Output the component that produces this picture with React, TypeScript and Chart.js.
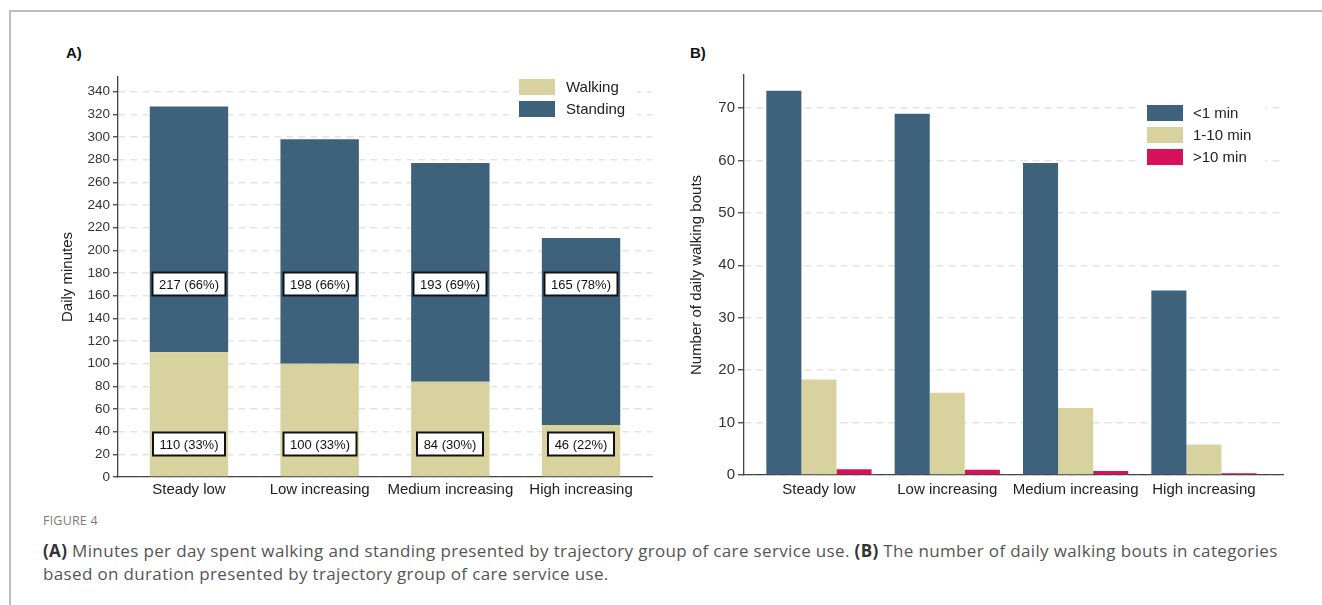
import React, { useEffect, useRef } from "react";
import { Chart, registerables } from "chart.js";

Chart.register(...registerables);

// ---------- Data ----------
const categories = ["Steady low", "Low increasing", "Medium increasing", "High increasing"];

// Panel A: daily minutes
const walkingMinutes = [110, 100, 84, 46];
const standingMinutes = [217, 198, 193, 165];
const walkingPct = [33, 33, 30, 22];
const standingPct = [66, 66, 69, 78];
const minuteTicks = [0, 20, 40, 60, 80, 100, 120, 140, 160, 180, 200, 220, 240, 260, 280, 300, 320, 340];

// Panel B: number of daily walking bouts
const boutsUnder1 = [73.3, 68.9, 59.5, 35.2];
const bouts1to10 = [18.2, 15.7, 12.8, 5.8];
const boutsOver10 = [1.1, 1.0, 0.75, 0.35];
const boutTicks = [0, 10, 20, 30, 40, 50, 60, 70];

// ---------- Styling ----------
const DARK = "#3e627c";
const BEIGE = "#d8d39e";
const RED = "#d6135a";
const FONT = '"Liberation Sans", Arial, sans-serif';

const pts = (arr: number[]) => arr.map((v, i) => ({ x: i, y: v }));

function legendPlugin(id: string, fromRight: number, fromTop: number, textGap: number) {
  return {
    id,
    afterDraw(chart: any) {
      const { ctx, chartArea } = chart;
      const x0 = chartArea.right - fromRight;
      const y0 = chartArea.top + fromTop;
      const n = chart.data.datasets.length;
      ctx.save();
      ctx.fillStyle = "#ffffff";
      ctx.fillRect(x0 - 10, y0 - 6, 128, n * 22 + 8);
      ctx.font = `15px ${FONT}`;
      ctx.textAlign = "left";
      ctx.textBaseline = "middle";
      chart.data.datasets.forEach((ds: any, i: number) => {
        const y = y0 + i * 22;
        ctx.fillStyle = ds.backgroundColor;
        ctx.fillRect(x0, y, 36, 16);
        ctx.fillStyle = "#222";
        ctx.fillText(ds.label, x0 + textGap, y + 8.5);
      });
      ctx.restore();
    },
  };
}

const STANDING_LABEL_AT = 170;
const WALKING_LABEL_AT = 29;

const boxLabels = {
  id: "boxLabels",
  afterDatasetsDraw(chart: any) {
    const { ctx } = chart;
    const yScale = chart.scales.y;
    ctx.save();
    ctx.font = `13px ${FONT}`;
    ctx.textAlign = "center";
    ctx.textBaseline = "middle";
    const rows = [
      { ds: 1, values: standingMinutes, pct: standingPct, at: STANDING_LABEL_AT },
      { ds: 0, values: walkingMinutes, pct: walkingPct, at: WALKING_LABEL_AT },
    ];
    rows.forEach((r) => {
      const meta = chart.getDatasetMeta(r.ds);
      meta.data.forEach((bar: any, i: number) => {
        const text = `${r.values[i]} (${r.pct[i]}%)`;
        const w = Math.round(ctx.measureText(text).width + 13);
        const h = 23;
        const cx = Math.round(bar.x);
        const cy = Math.round(yScale.getPixelForValue(r.at));
        ctx.fillStyle = "#fff";
        ctx.fillRect(cx - w / 2, cy - h / 2, w, h);
        ctx.lineWidth = 2;
        ctx.strokeStyle = "#111";
        ctx.strokeRect(cx - w / 2, cy - h / 2, w, h);
        ctx.fillStyle = "#111";
        ctx.fillText(text, cx, cy + 1);
      });
    });
    ctx.restore();
  },
};

function xScale(min: number, max: number, fontSize: number, height: number, pad: number) {
  return {
    type: "linear" as const,
    min,
    max,
    offset: false,
    bounds: "data" as const,
    afterBuildTicks: (scale: any) => {
      scale.ticks = categories.map((_, i) => ({ value: i }));
    },
    afterFit: (scale: any) => {
      scale.height = height;
    },
    grid: { display: false, drawTicks: false, offset: false },
    border: { display: true, color: "#444", width: 1.3 },
    ticks: {
      autoSkip: false,
      maxRotation: 0,
      padding: pad,
      color: "#222",
      font: { family: FONT, size: fontSize },
      callback: (v: any) => categories[v as number] ?? "",
    },
  };
}

function yScale(
  max: number,
  tickValues: number[],
  width: number,
  tickLen: number,
  tickSize: number,
  title: string
) {
  return {
    type: "linear" as const,
    min: 0,
    max,
    bounds: "data" as const,
    afterBuildTicks: (scale: any) => {
      scale.ticks = tickValues.map((v) => ({ value: v }));
    },
    afterFit: (scale: any) => {
      scale.width = width;
    },
    grid: {
      color: "#e4e4e4",
      lineWidth: 1.5,
      drawTicks: true,
      tickLength: tickLen,
      tickColor: "#444",
      tickWidth: 1.3,
      tickBorderDash: [],
    },
    border: { display: true, color: "#444", width: 1.3, dash: [7, 5] },
    ticks: {
      autoSkip: false,
      padding: 3,
      color: "#333",
      font: { family: FONT, size: tickSize },
    },
    title: {
      display: true,
      text: title,
      color: "#222",
      font: { family: FONT, size: 15 },
      padding: { top: 4, bottom: 4 },
    },
  };
}

export default function App() {
  const refA = useRef<HTMLCanvasElement>(null);
  const refB = useRef<HTMLCanvasElement>(null);

  useEffect(() => {
    const chartA = new Chart(refA.current as HTMLCanvasElement, {
      type: "bar",
      data: {
        datasets: [
          { label: "Walking", data: pts(walkingMinutes), backgroundColor: BEIGE, borderWidth: 0 },
          { label: "Standing", data: pts(standingMinutes), backgroundColor: DARK, borderWidth: 0 },
        ],
      },
      options: {
        responsive: false,
        animation: false,
        layout: { padding: { left: 15, top: 17, right: 8, bottom: 0 } },
        datasets: { bar: { categoryPercentage: 1, barPercentage: 0.6 } },
        plugins: { legend: { display: false }, tooltip: { enabled: false } },
        scales: {
          x: { ...xScale(-0.543, 3.543, 15, 33, 4), stacked: true },
          y: { ...yScale(353, minuteTicks, 63, 5, 13.5, "Daily minutes"), stacked: true },
        },
      } as any,
      plugins: [boxLabels, legendPlugin("legendA", 133, 2, 47)],
    });

    const chartB = new Chart(refB.current as HTMLCanvasElement, {
      type: "bar",
      data: {
        datasets: [
          { label: "<1 min", data: pts(boutsUnder1), backgroundColor: DARK, borderWidth: 0 },
          { label: "1-10 min", data: pts(bouts1to10), backgroundColor: BEIGE, borderWidth: 0 },
          { label: ">10 min", data: pts(boutsOver10), backgroundColor: RED, borderWidth: 0 },
        ],
      },
      options: {
        responsive: false,
        animation: false,
        layout: { padding: { left: 24, top: 15, right: 39, bottom: 0 } },
        datasets: { bar: { categoryPercentage: 0.82, barPercentage: 1 } },
        plugins: { legend: { display: false }, tooltip: { enabled: false } },
        scales: {
          x: xScale(-0.584, 3.616, 15, 35, 6),
          y: yScale(76.3, boutTicks, 60, 6, 15, "Number of daily walking bouts"),
        },
      } as any,
      plugins: [legendPlugin("legendB", 136, 30, 46)],
    });

    return () => {
      chartA.destroy();
      chartB.destroy();
    };
  }, []);

  return (
    <div
      style={{
        position: "absolute",
        left: 0,
        top: 0,
        width: 1322,
        height: 605,
        background: "#fff",
        overflow: "hidden",
      }}
    >
      <div
        style={{
          position: "absolute",
          left: 9,
          top: 10,
          width: 1330,
          height: 620,
          borderTop: "2px solid #bdbdbd",
          borderLeft: "2px solid #bdbdbd",
        }}
      />
      <div
        style={{
          position: "absolute",
          left: 66,
          top: 44,
          font: `bold 15px ${FONT}`,
          color: "#111",
        }}
      >
        A)
      </div>
      <div
        style={{
          position: "absolute",
          left: 690,
          top: 44,
          font: `bold 15px ${FONT}`,
          color: "#111",
        }}
      >
        B)
      </div>
      <canvas
        ref={refA}
        width={620}
        height={450}
        style={{ position: "absolute", left: 40, top: 60, width: 620, height: 450 }}
      />
      <canvas
        ref={refB}
        width={662}
        height={450}
        style={{ position: "absolute", left: 660, top: 60, width: 662, height: 450 }}
      />
      <div
        style={{
          position: "absolute",
          left: 43,
          top: 512,
          font: `12.5px "Open Sans", sans-serif`,
          color: "#7a7a7a",
          letterSpacing: 0.2,
        }}
      >
        FIGURE 4
      </div>
      <div
        style={{
          position: "absolute",
          left: 43,
          top: 539,
          font: `17px "Open Sans", sans-serif`,
          letterSpacing: "0.35px",
          lineHeight: "23px",
          color: "#555",
          whiteSpace: "nowrap",
        }}
      >
        <b style={{ color: "#333" }}>(A)</b> Minutes per day spent walking and standing presented by trajectory group of
        care service use. <b style={{ color: "#333" }}>(B)</b> The number of daily walking bouts in categories
        <br />
        based on duration presented by trajectory group of care service use.
      </div>
    </div>
  );
}
